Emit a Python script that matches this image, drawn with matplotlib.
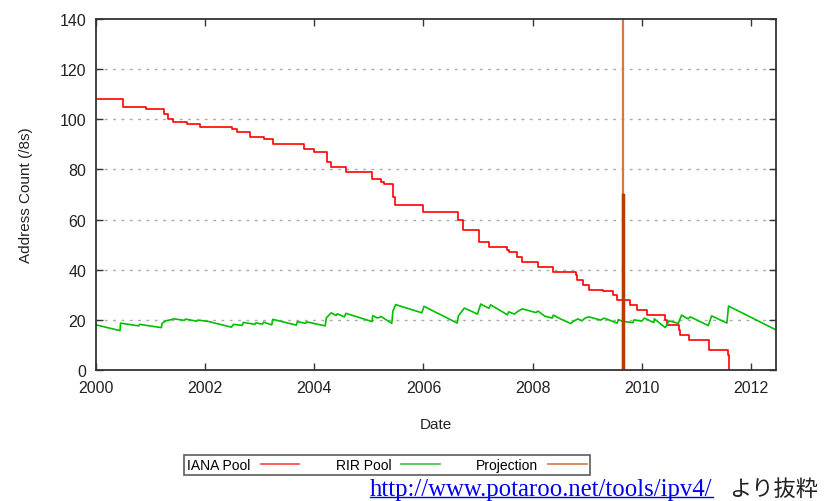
import matplotlib.pyplot as plt
from matplotlib.lines import Line2D

# IANA pool: step changes (date, remaining /8s)
iana_dates = [2000.00, 2000.49, 2000.91, 2001.24, 2001.32, 2001.41, 2001.66, 2001.91,
              2002.49, 2002.58, 2002.82, 2003.07, 2003.24, 2003.81, 2004.00, 2004.24,
              2004.30, 2004.58, 2005.06, 2005.23, 2005.28, 2005.45, 2005.48, 2006.00,
              2006.64, 2006.73, 2007.02, 2007.20, 2007.53, 2007.56, 2007.71, 2007.81,
              2008.10, 2008.37, 2008.79, 2008.82, 2008.93, 2009.04, 2009.29, 2009.47,
              2009.54, 2009.79, 2009.91, 2010.10, 2010.43, 2010.46, 2010.68, 2010.71,
              2010.86, 2011.24, 2011.58, 2011.60]
iana_vals = [108, 105, 104, 102, 100, 99, 98, 97,
             96, 95, 93, 92, 90, 88, 87, 83,
             81, 79, 76, 75, 74, 69, 66, 63,
             60, 56, 51, 49, 48, 47, 45, 43,
             41, 39, 38, 36, 34, 32, 31.6, 30,
             28, 26, 24, 22, 20, 18, 16, 14,
             12, 8, 6, 0]

# RIR pool: sawtooth
rir_dates = [2000.00, 2000.44, 2000.45, 2000.78, 2000.80, 2001.20, 2001.21, 2001.28, 2001.43,
             2001.62, 2001.64, 2001.84, 2001.87, 2002.05, 2002.48, 2002.52, 2002.68, 2002.70,
             2002.91, 2002.93, 2003.05, 2003.07, 2003.22, 2003.24, 2003.67, 2003.69, 2003.84,
             2003.86, 2004.20, 2004.22, 2004.31, 2004.40, 2004.42, 2004.55, 2004.58, 2005.06,
             2005.07, 2005.15, 2005.20, 2005.22, 2005.42, 2005.44, 2005.49, 2005.97, 2006.01,
             2006.62, 2006.64, 2006.75, 2006.99, 2007.05, 2007.20, 2007.23, 2007.54, 2007.56,
             2007.67, 2007.71, 2007.81, 2008.06, 2008.10, 2008.22, 2008.36, 2008.38, 2008.50,
             2008.70, 2008.74, 2008.83, 2008.90, 2008.97, 2009.03, 2009.25, 2009.31, 2009.55,
             2009.57, 2009.65, 2009.84, 2009.86, 2010.00, 2010.05, 2010.22, 2010.23, 2010.43,
             2010.50, 2010.67, 2010.73, 2010.85, 2010.89, 2011.22, 2011.28, 2011.56, 2011.59,
             2012.46]
rir_vals = [18.0, 15.7, 18.7, 17.6, 18.2, 16.9, 18.6, 19.6, 20.4,
            19.8, 20.3, 19.5, 19.9, 19.4, 17.1, 18.2, 17.8, 19.0,
            18.2, 18.8, 18.3, 19.1, 18.0, 20.2, 17.9, 19.3, 18.6,
            19.2, 17.6, 20.8, 22.8, 21.7, 22.4, 21.2, 22.6, 19.3,
            21.7, 20.8, 21.0, 21.4, 18.6, 23.5, 26.1, 22.8, 25.4,
            18.7, 21.6, 24.7, 22.3, 26.3, 24.6, 26.0, 22.0, 23.2,
            22.3, 23.1, 24.4, 22.9, 23.5, 21.5, 20.7, 21.9, 20.5,
            18.5, 19.3, 20.4, 19.6, 20.8, 21.2, 19.9, 20.7, 18.7,
            20.1, 19.4, 18.9, 20.0, 19.5, 20.7, 18.9, 20.4, 16.9,
            19.6, 18.6, 21.9, 20.4, 21.2, 17.7, 21.6, 18.7, 25.5,
            16.0]

proj_date = 2009.66
proj_top = 145
proj_mark = 70

x_ticks = [2000, 2002, 2004, 2006, 2008, 2010, 2012]
y_ticks = [0, 20, 40, 60, 80, 100, 120, 140]

plt.rcParams['font.family'] = ['Liberation Sans', 'DejaVu Sans']

fig = plt.figure(figsize=(8.25, 5.02), dpi=100)
ax = fig.add_axes([96/825, 1-371/502, 680/825, 351/502])

ax.step(iana_dates, iana_vals, where='post', color='#ff0000', lw=1.2, label='IANA Pool')
ax.plot(rir_dates, rir_vals, color='#00c000', lw=1.2, label='RIR Pool')
ax.plot([proj_date, proj_date], [0, proj_top], color='#d07a48', lw=1.6, label='Projection')
ax.plot([proj_date, proj_date], [0, proj_mark], color='#b83c00', lw=2.5)

ax.set_xlim(2000, 2012.46)
ax.set_ylim(0, 140)
ax.set_xticks(x_ticks)
ax.set_yticks(y_ticks)
ax.tick_params(direction='in', length=5, width=1, top=True, right=True,
               labelsize=11.5, pad=7, color='#333333', labelcolor='#222222')
for s in ax.spines.values():
    s.set_color('#333333')
    s.set_linewidth(1.3)
for v in y_ticks[1:-1]:
    ax.axhline(v, color='#aaaaaa', lw=1, ls=(0, (2, 4)), zorder=0)

ax.set_xlabel('Date', fontsize=11, labelpad=16, color='#222222')
ax.set_ylabel('Address Count (/8s)', fontsize=11, labelpad=19, color='#222222')

leg = fig.legend(handles=[Line2D([], [], color='#ff4040', lw=1.2),
                          Line2D([], [], color='#40c040', lw=1.2),
                          Line2D([], [], color='#d07a48', lw=1.2)],
                 labels=['IANA Pool', 'RIR Pool', 'Projection'],
                 ncol=3, markerfirst=False, loc='center',
                 bbox_to_anchor=(387/825, 1-466/502), fontsize=10,
                 frameon=True, fancybox=False, borderpad=0.25,
                 handlelength=2.8, columnspacing=2.6, handletextpad=0.7,
                 borderaxespad=0)
leg.get_frame().set_edgecolor('#333333')
leg.get_frame().set_linewidth(1.2)

url = fig.text(370/825, 1-496/502, 'http://www.potaroo.net/tools/ipv4/',
               family='Liberation Serif', fontsize=17.8, color='#0000ee', va='baseline')
fig.text(729/825, 1-496/502, 'より抜粋', family=['Noto Sans CJK JP', 'DejaVu Sans'],
         fontsize=16, color='#222222', va='baseline')

fig.canvas.draw()
bb = url.get_window_extent().transformed(fig.transFigure.inverted())
fig.add_artist(Line2D([bb.x0, bb.x1], [bb.y0 + 0.005, bb.y0 + 0.005],
                      transform=fig.transFigure, color='#0000ee', lw=1))

fig.savefig('out.png', dpi=100)
